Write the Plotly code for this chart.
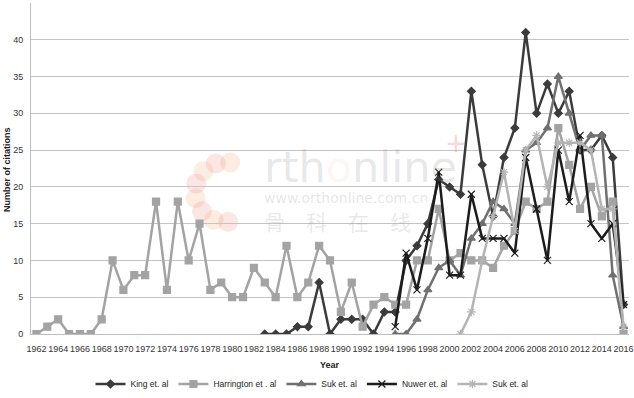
import math
import plotly.graph_objects as go

# ---------------- data ----------------
years_harrington = list(range(1962, 2017))
harrington = [0, 1, 2, 0, 0, 0, 2, 10, 6, 8, 8, 18, 6, 18, 10, 15, 6, 7, 5, 5,
              9, 7, 5, 12, 5, 7, 12, 10, 3, 7, 1, 4, 5, 4, 4, 10, 10, 17, 10, 11,
              10, 10, 9, 12, 14, 18, 17, 18, 28, 23, 17, 20, 16, 18, 0]

years_king = list(range(1983, 2017))
king = [0, 0, 0, 1, 1, 7, 0, 2, 2, 2, 0, 3, 3, 10, 12, 15, 21, 20, 19, 33,
        23, 16, 24, 28, 41, 30, 34, 30, 33, 25, 25, 27, 24, 4]

years_suk1 = list(range(1995, 2017))
suk1 = [0, 0, 2, 6, 9, 10, 8, 13, 15, 18, 17, 15, 25, 26, 28, 35, 30, 25, 27, 27, 8, 1]

years_nuwer = list(range(1995, 2017))
nuwer = [1, 11, 6, 13, 22, 8, 8, 19, 13, 13, 13, 11, 24, 17, 10, 25, 18, 27, 15, 13, 15, 4]

years_suk2 = list(range(2001, 2017))
suk2 = [0, 3, 10, 16, 22, 14, 25, 27, 20, 26, 26, 26, 25, 17, 17, 1]

x_ticks = list(range(1962, 2017, 2))
y_ticks = list(range(0, 46, 5))

# ---------------- figure ----------------
FONT = "Liberation Sans, Arial, sans-serif"
fig = go.Figure()

series = [
    ("King et. al", years_king, king, "#3b3b3b", "diamond", 6, 2.5),
    ("Harrington et . al", years_harrington, harrington, "#a3a3a3", "square", 7, 2.5),
    ("Suk et. al", years_suk1, suk1, "#707070", "triangle-up", 7, 2.5),
    ("Nuwer et. al", years_nuwer, nuwer, "#1c1c1c", "x-thin-open", 7, 2.5),
    ("Suk et. al", years_suk2, suk2, "#b4b4b4", "asterisk-open", 7, 2.5),
]
for name, xs, ys, col, sym, msz, lw in series:
    fig.add_trace(go.Scatter(
        x=xs, y=ys, name=name, mode="lines+markers",
        line=dict(color=col, width=lw),
        marker=dict(symbol=sym, size=msz, color=col,
                    line=dict(color=col, width=1.2)),
    ))

# plot area geometry (pixels) for watermark placement
L, R, T, B = 31, 629, 3, 334
W, H = R - L, B - T


def px(x):
    return (x - L) / W


def py(y):
    return (B - y) / H


annotations = [
    dict(text="<b>Year</b>", x=px(330), y=py(365), xref="paper", yref="paper",
         xanchor="center", yanchor="middle",
         showarrow=False, font=dict(size=9, color="#222", family=FONT)),
    dict(text="<b>Number of citations</b>", x=px(7), y=py(170), xref="paper",
         yref="paper", xanchor="center", yanchor="middle",
         showarrow=False, textangle=-90,
         font=dict(size=9, color="#222", family=FONT)),
    # watermark
    dict(text="rth<span style='color:rgba(235,120,110,0.35)'>o</span>nline",
         x=px(262), y=py(167), xref="paper", yref="paper", xanchor="left",
         yanchor="middle", showarrow=False,
         font=dict(size=43, color="rgba(150,150,150,0.22)", family="DejaVu Sans")),
    dict(text="+", x=px(456), y=py(143), xref="paper", yref="paper",
         xanchor="center", yanchor="middle", showarrow=False,
         font=dict(size=26, color="rgba(235,110,100,0.3)", family="DejaVu Sans")),
    dict(text="www.orthonline.com.cn", x=px(262), y=py(198), xref="paper",
         yref="paper", xanchor="left", yanchor="middle", showarrow=False,
         font=dict(size=14, color="rgba(150,150,150,0.25)", family="DejaVu Sans")),
    dict(text="骨　科　在　线", x=px(262), y=py(221), xref="paper", yref="paper",
         xanchor="left", yanchor="middle", showarrow=False,
         font=dict(size=21, color="rgba(150,150,150,0.22)", family="Noto Sans CJK SC")),
]

shapes = []
cx, cy, rr = 225, 192, 30
for i in range(8):
    a = math.radians(80 + i * 28)
    ex = cx + rr * math.cos(a)
    ey = cy - rr * math.sin(a)
    pr = 10
    col = "rgba(240,170,120,0.22)" if i % 2 == 0 else "rgba(235,130,120,0.2)"
    shapes.append(dict(type="circle", xref="paper", yref="paper",
                       x0=px(ex - pr), x1=px(ex + pr), y0=py(ey + pr), y1=py(ey - pr),
                       fillcolor=col, line=dict(width=0), layer="below"))

fig.update_layout(
    width=634, height=398,
    margin=dict(l=L, r=634 - R, t=T, b=398 - B, autoexpand=False),
    paper_bgcolor="white", plot_bgcolor="white",
    font=dict(family=FONT, size=9, color="#333"),
    showlegend=True,
    legend=dict(orientation="h", x=px(312), xanchor="center", y=py(384),
                yanchor="middle", font=dict(size=8.5, color="#222", family=FONT),
                itemwidth=30, tracegroupgap=0, bgcolor="rgba(0,0,0,0)"),
    annotations=annotations,
    shapes=shapes,
)
fig.update_xaxes(
    range=[1961.5, 2016.5], tickmode="array", tickvals=x_ticks,
    ticktext=[str(v) for v in x_ticks], showgrid=False, zeroline=False,
    showline=True, linecolor="#bdbdbd", linewidth=1, ticks="",
    tickangle=0, automargin=False,
    ticklabelstandoff=6, tickfont=dict(size=9, color="#333"),
)
fig.update_yaxes(
    range=[0, 45], tickmode="array", tickvals=y_ticks, showgrid=True,
    gridcolor="#c4c4c4", gridwidth=1, zeroline=False, showline=True,
    linecolor="#bdbdbd", linewidth=1, ticks="", ticklabelstandoff=5,
    automargin=False, tickfont=dict(size=9, color="#333"),
)

fig.write_html("out.html", config={"displayModeBar": False},
               post_script="document.body.style.margin='0';document.body.style.padding='0';")
